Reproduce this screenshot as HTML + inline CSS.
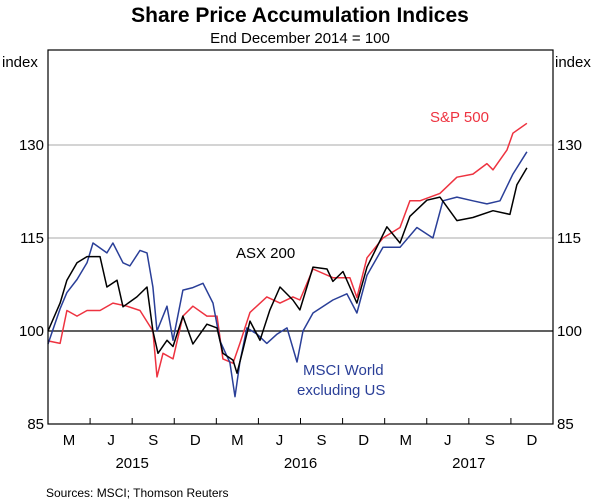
<!DOCTYPE html>
<html><head><meta charset="utf-8"><style>
body{margin:0;background:#fff;}
svg{display:block;font-family:"Liberation Sans",Arial,sans-serif;}
</style></head><body>
<svg id="chart" width="600" height="504" viewBox="0 0 600 504">
<text x="300" y="22" text-anchor="middle" font-size="21" font-weight="bold">Share Price Accumulation Indices</text>
<text x="300" y="43" text-anchor="middle" font-size="15">End December 2014 = 100</text>
<text x="2" y="67" font-size="15">index</text>
<text x="555" y="67" font-size="15">index</text>
<g id="grid"></g><g id="series"></g>
<rect x="48" y="50" width="505" height="374" fill="none" stroke="#000" stroke-width="1.2"/>
<g id="axes"></g>
<text x="236" y="258" font-size="15">ASX 200</text>
<text x="430" y="122" font-size="15" fill="#ee3340">S&amp;P 500</text>
<text x="303" y="375" font-size="15" fill="#2a3f98">MSCI World</text>
<text x="297" y="395" font-size="15" fill="#2a3f98">excluding US</text>
<text x="46" y="497" font-size="12">Sources: MSCI; Thomson Reuters</text>
</svg>
<script>
const yTicks=[85,100,115,130];
const quarterLabels=["M","J","S","D","M","J","S","D","M","J","S","D"];
const yearLabels=["2015","2016","2017"];
const asxT=[0,0.86,1.35,2.07,2.78,3.71,4.2,4.92,5.35,6.34,7.06,7.48,7.84,8.48,8.91,9.62,10.33,11.33,12.05,12.47,13.19,13.47,13.9,14.4,15.11,15.82,16.54,17.46,17.96,18.89,19.89,20.31,21.03,22.02,22.74,24.16,25.09,25.8,27.01,27.94,29.15,30.29,31.72,32.93,33.43,34.14];
const asxV=[100,104.5,108.2,111,112,112,107.1,108.2,103.9,105.5,107.1,100,96.4,98.5,97.5,102.4,97.9,101.1,100.5,96.4,95.3,93.2,97,101.6,98.5,103.4,107.1,105,103.4,110.3,110,108,109.6,104.5,110.3,116.8,114.2,118.5,121.1,121.6,117.8,118.3,119.4,118.8,123.6,126.3];
const spT=[0,0.86,1.35,2.07,2.78,3.71,4.63,5.63,6.56,7.48,7.77,8.2,8.91,9.62,10.33,11.33,12.05,12.47,13.19,13.68,14.4,15.6,16.54,17.46,17.96,18.89,20.31,21.52,22.02,22.74,23.88,25.09,25.8,26.51,27.94,29.15,30.29,31.29,31.72,32.72,33.14,34.14];
const spV=[98.4,98,103.3,102.4,103.3,103.3,104.5,104,103.3,100,92.6,96.4,95.5,102.4,104,102.4,102.4,95.5,94.8,98,103,105.5,104.5,105.5,105,110,108.6,108.6,105.4,111.8,115,116.7,121,121,122.2,124.8,125.3,127,126,129.2,131.9,133.5];
const msciT=[0,0.86,1.35,2.07,2.78,3.21,4.2,4.63,5.35,5.84,6.56,7.06,7.48,7.77,8.48,8.91,9.62,10.33,11.05,11.76,12.26,12.97,13.33,13.68,14.18,14.9,15.6,16.33,17.04,17.75,18.18,18.89,20.31,21.31,22.02,22.74,23.88,25.09,26.3,27.44,28.15,29.15,30.29,31.29,32.22,33.14,34.14];
const msciV=[97.9,103.6,106.2,108.3,111,114.2,112.6,114.2,111,110.5,113,112.6,107.1,100,104,98.5,106.6,107,107.7,104.5,98.4,94.9,89.4,95,100.5,99.5,98,99.5,100.5,95,100,102.9,105,106,102.9,109,113.5,113.5,116.7,115,121,121.6,121,120.5,121,125.3,128.9];
const L=48,R=553,T=50,B=424,NM=36,YMIN=85,YMAX=145.32;
const xS=t=>L+(t/NM)*(R-L);
const yS=v=>B-(v-YMIN)/(YMAX-YMIN)*(B-T);
const NS="http://www.w3.org/2000/svg";
function mk(tag,attrs,parent){const e=document.createElementNS(NS,tag);for(const k in attrs)e.setAttribute(k,attrs[k]);parent.appendChild(e);return e;}
const grid=document.getElementById('grid'),axes=document.getElementById('axes'),ser=document.getElementById('series');
yTicks.forEach(v=>{
  if(v>YMIN){const ln=mk('line',{x1:L,x2:R,y1:yS(v),y2:yS(v),stroke:v===100?'#000':'#aaa','stroke-width':v===100?1.2:1},grid);
  
  }
  const a=mk('text',{x:L-4,y:yS(v)+5,'text-anchor':'end','font-size':15},axes);a.textContent=v;
  
  
  const b=mk('text',{x:R+4,y:yS(v)+5,'font-size':15},axes);b.textContent=v;
  
  
});
quarterLabels.forEach((q,i)=>{
  if(i>0){const tk=mk('line',{x1:xS(i*3),x2:xS(i*3),y1:B,y2:B-6,stroke:'#000'},axes);
  
  }
  const t=mk('text',{x:xS(i*3+1.5),y:B+21,'text-anchor':'middle','font-size':15},axes);t.textContent=q;
  
  
});
yearLabels.forEach((y,i)=>{
  const t=mk('text',{x:xS(i*12+6),y:B+44,'text-anchor':'middle','font-size':15},axes);t.textContent=y;
  
  
});
function line(ts,vs,color,name){
  const d=ts.map((t,i)=>(i?'L':'M')+xS(t).toFixed(1)+','+yS(vs[i]).toFixed(1)).join('');
  const p=mk('path',{d:d,fill:'none',stroke:color,'stroke-width':1.5,'stroke-linejoin':'round'},ser);
  
  
}
line(spT,spV,'#ee3340','sp500-line');
line(msciT,msciV,'#2a3f98','msci-world-ex-us-line');
line(asxT,asxV,'#000','asx200-line');
</script>
</body></html>
